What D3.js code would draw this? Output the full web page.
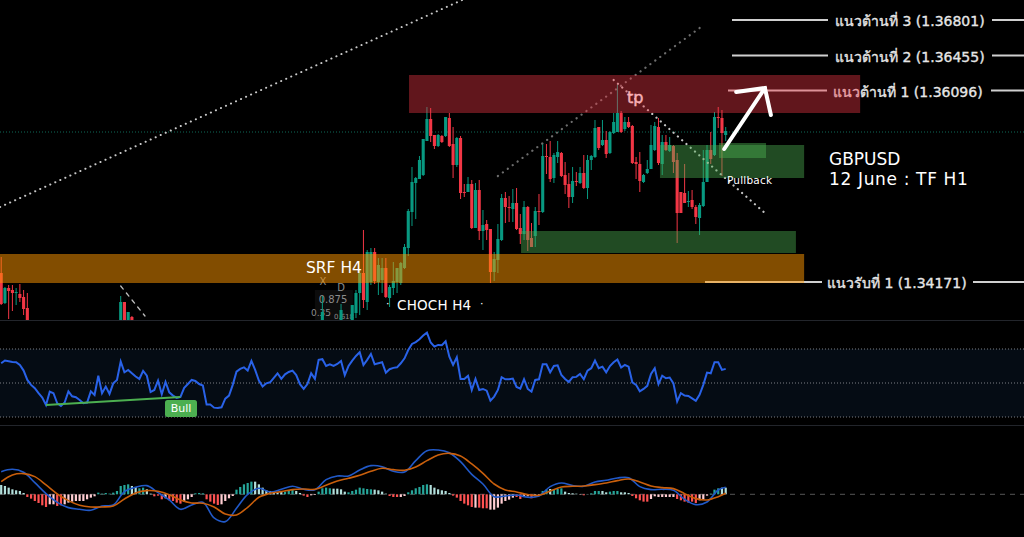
<!DOCTYPE html>
<html>
<head>
<meta charset="utf-8">
<script src="https://cdnjs.cloudflare.com/ajax/libs/d3/7.8.5/d3.min.js"></script>
<style>
html,body{margin:0;padding:0;background:#000;overflow:hidden}
svg{display:block}
text{font-family:"DejaVu Sans","Noto Sans",sans-serif;fill:#fff}
</style>
</head>
<body>
<svg id="c" width="1024" height="537"></svg>
<script>
const candleBar = [0,1,2,3,4,5,6,7,32,33,34,35,86,91,
  94,95,96,97,98,99,100,101,102,103,104,105,106,107,108,109,110,111,112,113,114,115,116,117,118,119,120,
  121,122,123,124,125,126,127,128,129,130,131,132,133,134,135,136,137,138,139,140,141,142,143,144,145,146,147,
  148,149,150,151,152,153,154,155,156,157,158,159,160,161,162,163,164,165,166,167,168,169,170,171,172,173,174,
  175,176,177,178,179,180,181,182,183,184,185,186,187,188,189,190,191,192,193,194];
const candleOpen = [1.3427,1.3397,1.3412,1.3410,1.3407,1.3406,1.3403,1.3392,1.3375,1.3398,1.3375,1.3383,1.3375,1.3375,
  1.3375,1.3387,1.3407,1.3427,1.3398,1.3418,1.3448,1.3418,1.3420,1.3432,1.3402,1.3412,1.3418,1.3417,1.3432,1.3452,1.3488,1.3517,1.3521,1.3525,1.3559,1.3581,1.3565,1.3554,1.3564,1.3564,1.3582,
  1.3556,1.3535,1.3562,1.3508,1.3508,1.3516,1.3472,1.3510,1.3469,1.3476,1.3471,1.3428,1.3440,1.3460,1.3502,1.3493,1.3491,1.3497,1.3472,1.3466,1.3493,1.3462,1.3464,1.3489,1.3488,1.3544,1.3543,
  1.3522,1.3543,1.3547,1.3525,1.3516,1.3503,1.3519,1.3517,1.3527,1.3512,1.3540,1.3543,1.3573,1.3555,1.3560,1.3547,1.3567,1.3568,1.3587,1.3571,1.3578,1.3574,1.3538,1.3536,1.3518,1.3527,1.3531,
  1.3550,1.3573,1.3536,1.3558,1.3549,1.3554,1.3540,1.3508,1.3507,1.3498,1.3500,1.3493,1.3482,1.3494,1.3518,1.3550,1.3545,1.3583,1.3582,1.3565];
const candleHigh = [1.3443,1.3413,1.3415,1.3415,1.3412,1.3416,1.3410,1.3407,1.3404,1.3398,1.3388,1.3384,1.3404,1.3396,
  1.3395,1.3410,1.3430,1.3470,1.3450,1.3452,1.3452,1.3442,1.3442,1.3442,1.3415,1.3438,1.3432,1.3438,1.3456,1.3491,1.3533,1.3523,1.3544,1.3561,1.3593,1.3592,1.3565,1.3566,1.3565,1.3583,1.3587,
  1.3573,1.3563,1.3564,1.3516,1.3523,1.3520,1.3517,1.3520,1.3490,1.3480,1.3471,1.3448,1.3476,1.3506,1.3508,1.3504,1.3511,1.3512,1.3486,1.3499,1.3494,1.3477,1.3493,1.3506,1.3557,1.3556,1.3559,
  1.3547,1.3559,1.3548,1.3538,1.3527,1.3533,1.3528,1.3533,1.3545,1.3545,1.3545,1.3580,1.3573,1.3580,1.3569,1.3569,1.3587,1.3615,1.3589,1.3583,1.3583,1.3575,1.3543,1.3548,1.3526,1.3540,1.3575,
  1.3578,1.3582,1.3565,1.3565,1.3563,1.3555,1.3547,1.3508,1.3536,1.3509,1.3510,1.3495,1.3497,1.3550,1.3555,1.3568,1.3588,1.3593,1.3590,1.3573];
const candleLow = [1.3395,1.3396,1.3381,1.3389,1.3395,1.3398,1.3385,1.3374,1.3374,1.3374,1.3374,1.3374,1.3374,1.3374,
  1.3374,1.3382,1.3385,1.3392,1.3390,1.3415,1.3416,1.3405,1.3407,1.3402,1.3393,1.3405,1.3407,1.3415,1.3431,1.3444,1.3474,1.3481,1.3521,1.3524,1.3559,1.3558,1.3551,1.3553,1.3557,1.3563,1.3553,
  1.3522,1.3533,1.3501,1.3503,1.3508,1.3471,1.3472,1.3460,1.3450,1.3460,1.3417,1.3419,1.3427,1.3459,1.3477,1.3478,1.3478,1.3470,1.3456,1.3460,1.3449,1.3453,1.3453,1.3475,1.3487,1.3526,1.3518,
  1.3517,1.3537,1.3523,1.3506,1.3492,1.3497,1.3514,1.3516,1.3511,1.3501,1.3530,1.3542,1.3550,1.3554,1.3542,1.3546,1.3566,1.3568,1.3567,1.3569,1.3572,1.3536,1.3521,1.3508,1.3517,1.3526,1.3531,
  1.3549,1.3535,1.3525,1.3549,1.3548,1.3527,1.3457,1.3487,1.3497,1.3493,1.3491,1.3476,1.3465,1.3493,1.3518,1.3536,1.3544,1.3572,1.3524,1.3559];
const candleClose = [1.3396,1.3412,1.3409,1.3407,1.3408,1.3402,1.3391,1.3375,1.3398,1.3375,1.3388,1.3375,1.3388,1.3390,
  1.3395,1.3407,1.3427,1.3400,1.3448,1.3448,1.3419,1.3435,1.3432,1.3403,1.3413,1.3419,1.3432,1.3437,1.3453,1.3489,1.3518,1.3522,1.3540,1.3561,1.3581,1.3564,1.3554,1.3565,1.3558,1.3583,1.3554,
  1.3535,1.3562,1.3507,1.3507,1.3516,1.3472,1.3510,1.3469,1.3475,1.3470,1.3428,1.3441,1.3461,1.3502,1.3493,1.3492,1.3497,1.3471,1.3466,1.3493,1.3460,1.3453,1.3489,1.3488,1.3544,1.3543,1.3521,
  1.3545,1.3548,1.3524,1.3515,1.3503,1.3519,1.3518,1.3527,1.3512,1.3540,1.3544,1.3572,1.3552,1.3560,1.3546,1.3568,1.3578,1.3587,1.3568,1.3578,1.3573,1.3537,1.3536,1.3519,1.3525,1.3531,1.3555,
  1.3574,1.3537,1.3558,1.3550,1.3555,1.3538,1.3487,1.3487,1.3497,1.3499,1.3493,1.3483,1.3495,1.3518,1.3550,1.3541,1.3583,1.3582,1.3567,1.3569];

const rsiValues = [61.6,63.2,62.8,62.4,62.2,60.6,57.3,51.8,48.9,46.9,44.0,41.4,37.1,44.9,44.0,38.1,36.5,38.5,45.1,42.2,
  41.6,40.0,38.1,38.5,45.1,43.0,54.3,44.0,47.9,43.6,49.8,51.8,62.6,56.3,57.7,55.7,53.8,52.4,57.1,54.3,
  44.7,45.9,51.4,43.4,50.6,44.5,42.6,41.2,41.8,47.1,49.4,51.8,51.2,49.4,48.5,37.3,37.3,35.5,35.3,35.7,
  40.8,42.6,48.9,56.7,58.3,59.2,57.3,63.0,57.7,51.4,47.9,49.8,50.4,53.0,55.7,52.4,55.1,56.5,57.3,54.7,
  49.3,46.5,49.4,55.7,52.4,63.6,64.0,60.0,61.0,60.0,61.2,63.0,54.7,60.0,63.2,65.9,68.1,60.6,63.6,
  67.1,61.0,61.6,62.2,56.1,58.1,58.9,59.2,61.6,64.5,69.4,73.0,74.1,75.7,77.9,79.6,73.8,71.4,72.4,72.2,
  74.5,65.5,60.6,65.1,52.4,52.4,54.2,45.9,52.4,45.9,46.5,45.5,39.6,42.0,45.9,53.4,52.2,52.2,52.6,47.7,
  46.7,52.2,46.5,44.9,51.8,52.2,61.0,61.0,56.3,60.0,60.4,54.7,52.4,50.6,53.4,53.6,55.3,52.2,57.3,58.7,
  63.2,58.7,59.6,56.3,60.0,62.2,63.8,59.1,60.6,59.6,50.4,48.9,45.1,46.5,48.3,55.3,58.7,49.3,54.3,52.8,
  53.2,49.8,39.1,44.0,42.6,42.4,41.0,39.5,43.0,48.9,56.1,55.7,62.2,62.2,57.7,58.3];
const rsiLevels = [70,50,30];
const bullBars = [12,48];
const bullRsi = [37.1,41.8];

const histValues = [28,25,20,15,12,10,4,-8,-13,-20,-26,-33,-38,-30,-30,-35,-33,-30,-25,-22,
  -20,-20,-20,-15,-10,-6,5,2,4,2,5,10,25,28,30,25,22,18,20,15,
  2,-6,-4,-15,-12,-18,-20,-25,-28,-22,-15,-8,3,4,3,-15,-22,-28,-32,-30,
  -20,-12,-5,14,22,30,34,38,38,30,20,12,10,10,6,10,8,12,14,10,
  4,-4,-8,-3,-2,8,18,20,18,17,17,15,8,6,10,14,20,18,16,
  15,14,12,8,2,-5,-8,-8,-8,-5,6,12,18,22,28,30,28,20,15,12,
  10,4,-4,-10,-20,-28,-33,-38,-40,-40,-42,-42,-46,-46,-40,-28,-20,-16,-10,-8,
  -14,-8,-6,-12,-6,-2,10,14,16,16,16,18,8,4,3,2,-1,-3,1,3,
  10,10,10,6,8,10,10,6,6,4,-5,-12,-18,-22,-22,-14,-6,-8,-8,-8,
  -8,-8,-14,-18,-22,-25,-22,-26,-18,-16,-4,2,14,18,20,20];
const histTones = ("LLLLLLLRRR"+"RRRPPRRPPP"+"PPPPPPTTTT"+"TTTTTLLTTL"+"LRRRPRRRRP"+"PPTTTRRRRP"+"PPPTTTTTLL"+"LLLLLLTTTL"+"LRRPPTTTTL"+"LLLTTTTTT"+
  "TLLLLRRRPP"+"TTTTTTLLLL"+"LLRRRRRRPR"+"RRPPPPPPPR"+"RPPRPPTTLT"+"TTLLLLPRLT"+"TTLLTTTLLL"+"RRRRRPPPPP"+"PPRRRRRRPP"+"PTTTLL").split("");
const macdBars = [0,3,6,9,12,15,18,21,24,27,30,33,36,39,42,45,48,51,54,57,60,63,66,69,72,75,78,81,84,87,90,93,96,
  99,102,105,108,111,114,117,120,123,126,129,132,135,138,141,144,147,150,153,156,159,162,165,168,171,174,177,180,183,186,189,192,194];
const macdValues = [68,75,66,35,2,-24,-40,-45,-48,-35,-32,8,21,26,5,-17,-45,-32,-24,-71,-82,-42,0,18,7,15,24,15,14,44,55,55,73,
  86,83,69,67,101,131,133,125,98,60,31,-7,-5,-2,-9,-5,23,34,26,24,37,42,49,50,23,14,15,12,-15,-31,-23,13,21];
const signalValues = [38,58,62,53,28,1,-19,-33,-38,-38,-35,-14,4,11,9,-1,-17,-26,-27,-38,-59,-62,-39,-9,3,8,14,16,15,27,40,48,57,
  69,78,74,72,82,101,118,123,115,91,63,31,13,7,-1,-3,10,22,24,25,29,34,41,46,37,25,20,17,2,-13,-17,-7,3];

const levelNames = ["แนวต้านที่ 3 (1.36801)","แนวต้านที่ 2 (1.36455)","แนวต้านที่ 1 (1.36096)","แนวรับที่ 1 (1.34171)"];
const levelPrices = [1.3680,1.36445,1.36095,1.3418];

const svg = d3.select("#c");
const W = 1024, H = 537;
const x = d3.scaleLinear().domain([0,194]).range([1.2,725.7]);
const y = d3.scaleLinear().domain([1.37,1.338]).range([0,320]);
const rsiY = d3.scaleLinear().domain([70,30]).range([349,417]);
const macdY = d3.scaleLinear().domain([-90,160]).range([524.3,441]);
const barW = 3.1;

svg.append("rect").attr("width",W).attr("height",H).attr("fill","#000");
svg.append("defs").append("clipPath").attr("id","mainClip").append("rect").attr("width",W).attr("height",320);
const main = svg.append("g").attr("clip-path","url(#mainClip)");

// horizontal dotted reference
main.append("line").attr("x1",0).attr("x2",W).attr("y1",y(1.3568)).attr("y2",y(1.3568))
  .attr("stroke","#0f6a58").attr("stroke-width",1).attr("stroke-dasharray","1 2");

// pattern labels beneath candles
const pat = main.append("g");
pat.append("rect").attr("x",x(84)).attr("y",y(1.3410)).attr("width",38).attr("height",34).attr("fill","#141414").attr("opacity",.6);
const patText = [["X",323,285,10],["D",341,291,10],["0.875",333,303,10],["0.35",321,316,9],["0.618",344,319,7]];
patText.forEach(d=>pat.append("text").attr("x",d[1]).attr("y",d[2]).attr("text-anchor","middle")
  .attr("font-size",d[3]).style("fill","#8c8c8c").text(d[0]));

// candles
const candles = candleBar.map((b,i)=>({b,o:candleOpen[i],h:candleHigh[i],l:candleLow[i],c:candleClose[i]}));
const up = "#089981", down = "#f23645";
const cg = main.append("g").selectAll("g").data(candles).join("g");
cg.append("line").attr("x1",d=>x(d.b)).attr("x2",d=>x(d.b)).attr("y1",d=>y(d.h)).attr("y2",d=>y(d.l))
  .attr("stroke",d=>d.c>=d.o?up:down).attr("stroke-width",1);
cg.append("rect").attr("x",d=>x(d.b)-barW/2).attr("width",barW)
  .attr("y",d=>y(Math.max(d.o,d.c))).attr("height",d=>Math.max(1,Math.abs(y(d.o)-y(d.c))))
  .attr("fill",d=>d.c>=d.o?up:down);

// dotted trend lines
function trend(b1,p1,b2,p2,col,dash,w){
  main.append("line").attr("x1",x(b1)).attr("y1",y(p1)).attr("x2",x(b2)).attr("y2",y(p2))
    .attr("stroke",col).attr("stroke-width",w).attr("stroke-dasharray",dash).attr("stroke-linecap","round");
}
trend(-0.3,1.3493,123.4,1.37,"#c9c9c9","0.1 5.4",2);
trend(133,1.3524,187,1.3672,"#6d6d6d","0.1 6",2.2);
trend(164,1.3620,204.8,1.3486,"#c4c4c4","0.1 5.6",2.2);
trend(32,1.3414,38.5,1.3384,"#bdbdbd","4 5",1.3);

// level lines + labels (drawn below zones so the zones tint them)
const levelGeo = [[732,828,835,992],[732,828,835,992],[728,827,833,991],[705,822,827,973]];
const lv = main.append("g");
levelNames.forEach((t,i)=>{
  const yy=y(levelPrices[i]), g=levelGeo[i];
  lv.append("line").attr("x1",g[0]).attr("x2",g[1]).attr("y1",yy).attr("y2",yy).attr("stroke","#cfcfcf").attr("stroke-width",2);
  lv.append("line").attr("x1",g[3]).attr("x2",W).attr("y1",yy).attr("y2",yy).attr("stroke","#cfcfcf").attr("stroke-width",2);
  lv.append("text").attr("x",g[2]).attr("y",yy+6).attr("font-size",14).style("fill","#e6e6e6")
    .style("stroke","#e6e6e6").style("stroke-width",.35).text(t);
});
main.append("text").attr("x",627).attr("y",103).attr("font-size",16).style("stroke","#fff").style("stroke-width",.4).text("tp");

// zones
const zones = [
  {b1:109.2,b2:230,p1:1.3625,p2:1.3587,fill:"#f23645",op:.4},
  {b1:176.4,b2:215,p1:1.3555,p2:1.3522,fill:"#4caf50",op:.43},
  {b1:192.2,b2:204.8,p1:1.3557,p2:1.3542,fill:"#4caf50",op:.45},
  {b1:139.2,b2:212.8,p1:1.3469,p2:1.3447,fill:"#4caf50",op:.43},
  {b1:-1,b2:215,p1:1.3446,p2:1.3417,fill:"#ff9800",op:.51}
];
main.append("g").selectAll("rect").data(zones).join("rect")
  .attr("x",d=>x(d.b1)).attr("width",d=>x(d.b2)-x(d.b1))
  .attr("y",d=>y(d.p1)).attr("height",d=>y(d.p2)-y(d.p1))
  .attr("fill",d=>d.fill).attr("fill-opacity",d=>d.op);

// arrow
const arrow = d3.line().x(d=>x(d[0])).y(d=>y(d[1]));
main.append("path").attr("d",arrow([[193.6,1.3551],[204.5,1.3612]])).attr("stroke","#fff").attr("stroke-width",4).attr("stroke-linecap","round").attr("fill","none");
main.append("path").attr("d",arrow([[196.8,1.3608],[204.5,1.3612],[206.1,1.3585]])).attr("stroke","#fff").attr("stroke-width",4).attr("stroke-linecap","round").attr("stroke-linejoin","miter").attr("fill","none");

// annotations
const notes = [["SRF H4",306,273,15.5,0],["CHOCH H4",397,310,13.5,0.2],["Pullback",727,184,10.5,0.2],["GBPUSD",829,165,17,0],["12 June : TF H1",829,185,17,0.65]];
notes.forEach(n=>main.append("text").attr("x",n[1]).attr("y",n[2]).attr("font-size",n[3]).attr("letter-spacing",n[4]).text(n[0]));
main.append("text").attr("x",386).attr("y",307).attr("font-size",11).text("·");
main.append("text").attr("x",480).attr("y",307).attr("font-size",11).text("·");

// panel separators
[320.5,425.5].forEach(v=>svg.append("line").attr("x1",0).attr("x2",W).attr("y1",v).attr("y2",v).attr("stroke","#22252b").attr("stroke-width",1));

// RSI
svg.append("rect").attr("x",0).attr("width",W).attr("y",rsiY(70)).attr("height",rsiY(30)-rsiY(70)).attr("fill","#050c14");
rsiLevels.forEach(v=>svg.append("line").attr("x1",0).attr("x2",W).attr("y1",rsiY(v)).attr("y2",rsiY(v))
  .attr("stroke","#7d7f84").attr("stroke-width",1).attr("stroke-dasharray","1 2"));
const rsiLine = d3.line().x((d,i)=>x(i)).y(d=>rsiY(d));
svg.append("path").datum(rsiValues).attr("d",rsiLine).attr("fill","none").attr("stroke","#2962e8").attr("stroke-width",2);
svg.append("line").attr("x1",x(bullBars[0])).attr("x2",x(bullBars[1])).attr("y1",rsiY(bullRsi[0])).attr("y2",rsiY(bullRsi[1]))
  .attr("stroke","#4caf50").attr("stroke-width",2);
svg.append("rect").attr("x",165).attr("y",400).attr("width",32).attr("height",17).attr("rx",2.5).attr("fill","#4caf50");
svg.append("text").attr("x",181).attr("y",412).attr("text-anchor","middle").attr("font-size",11).text("Bull");

// MACD
svg.append("line").attr("x1",0).attr("x2",W).attr("y1",macdY(0)).attr("y2",macdY(0))
  .attr("stroke","#555").attr("stroke-width",1).attr("stroke-dasharray","5 5");
const toneColor = {T:"#26a69a",L:"#b2dfdb",R:"#ff5252",P:"#ffcdd2"};
svg.append("g").selectAll("rect").data(histValues).join("rect")
  .attr("x",(d,i)=>x(i)-1.1).attr("width",2.2)
  .attr("y",d=>Math.min(macdY(d),macdY(0))).attr("height",d=>Math.abs(macdY(d)-macdY(0)))
  .attr("fill",(d,i)=>toneColor[histTones[i]]);
const macdLine = d3.line().x((d,i)=>x(macdBars[i])).y(d=>macdY(d)).curve(d3.curveCatmullRom);
svg.append("path").datum(macdValues).attr("d",macdLine).attr("fill","none").attr("stroke","#2159c8").attr("stroke-width",1.6);
svg.append("path").datum(signalValues).attr("d",macdLine).attr("fill","none").attr("stroke","#c95f0c").attr("stroke-width",1.6);
</script>
</body>
</html>
